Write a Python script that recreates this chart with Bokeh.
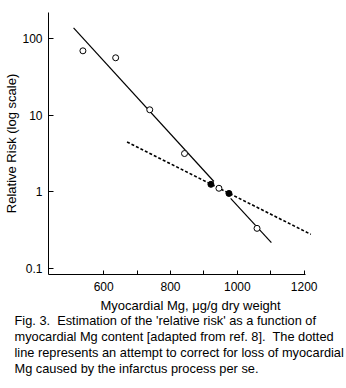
from bokeh.plotting import figure
from bokeh.models import Range1d, FixedTicker, Title
from bokeh.embed import file_html
from bokeh.resources import INLINE

# ---- data ----
mg_open = [538, 636, 738, 842, 945, 1059]
rr_open = [69.7, 56.5, 11.8, 3.16, 1.11, 0.332]

mg_filled = [921, 975]
rr_filled = [1.25, 0.95]

# solid regression line (drawn in two pieces, broken near the crossing)
mg_fit = [[510, 930], [980, 1102]]
rr_fit = [[139, 1.36], [0.82, 0.216]]

# dotted (corrected) line
mg_corr = [670, 1220]
rr_corr = [4.48, 0.277]

x_ticks = [600, 800, 1000, 1200]
x_minor = [700, 900, 1100]
y_ticks = [0.1, 1, 10, 100]
y_tick_labels = ["0.1", "1", "10", "100"]

x_title = "Myocardial Mg, \u03bcg/g dry weight"
y_title = "Relative Risk (log scale)"
caption = [
    "Fig. 3.\u00a0 Estimation of the 'relative risk' as a function of",
    "myocardial Mg content [adapted from ref. 8].\u00a0 The dotted",
    "line represents an attempt to correct for loss of myocardial",
    "Mg caused by the infarctus process per se.",
]

FONT = "Liberation Sans"

p = figure(width=346, height=388, output_backend="svg", toolbar_location=None,
           y_axis_type="log",
           x_range=Range1d(435, 1222), y_range=Range1d(0.0827, 221),
           min_border_left=48, min_border_right=35,
           min_border_top=12, min_border_bottom=114)
p.outline_line_color = None
p.grid.visible = False
p.background_fill_color = "white"
p.border_fill_color = "white"

# x axis
xa = p.xaxis[0]
xa.ticker = FixedTicker(ticks=x_ticks, minor_ticks=x_minor)
xa.bounds = (435, 1203)
xa.major_tick_in = 4
xa.major_tick_out = 0
xa.minor_tick_in = 4
xa.minor_tick_out = 0
xa.major_label_standoff = 7
xa.major_label_text_font = FONT
xa.major_label_text_font_size = "12px"
xa.major_label_text_color = "black"
xa.axis_line_color = "black"
xa.major_tick_line_color = "black"
xa.minor_tick_line_color = "black"

# y axis
ya = p.yaxis[0]
ya.ticker = FixedTicker(ticks=y_ticks)
ya.major_label_overrides = dict(zip(y_ticks, y_tick_labels))
ya.major_tick_in = 5
ya.major_tick_out = 0
ya.minor_tick_line_color = None
ya.major_label_standoff = 6
ya.major_label_text_font = FONT
ya.major_label_text_font_size = "12px"
ya.major_label_text_color = "black"
ya.axis_line_color = "black"
ya.major_tick_line_color = "black"
ya.axis_label = y_title
ya.axis_label_text_font = FONT
ya.axis_label_text_font_size = "13px"
ya.axis_label_text_font_style = "normal"
ya.axis_label_text_color = "black"
ya.axis_label_standoff = 0

# lines and points
p.multi_line(mg_fit, rr_fit, line_color="black", line_width=1.2)
p.line(mg_corr, rr_corr, line_color="black", line_width=1.6, line_dash="3 2")
p.scatter(mg_open, rr_open, size=6, fill_color="white", line_color="black", line_width=1)
p.scatter(mg_filled, rr_filled, size=6, fill_color="black", line_color="black")

# x title and caption stacked below the axis
p.add_layout(Title(text=x_title, align="left", offset=52, standoff=5,
                   text_font=FONT, text_font_size="13px", text_font_style="normal",
                   text_color="black"), "below")
p.add_layout(Title(text="\n".join(caption), align="left", offset=-34, standoff=-8,
                   text_font=FONT, text_font_size="12.8px", text_font_style="normal",
                   text_line_height=1.05, text_color="black"), "below")

open("out.html", "w").write(file_html(p, INLINE))
